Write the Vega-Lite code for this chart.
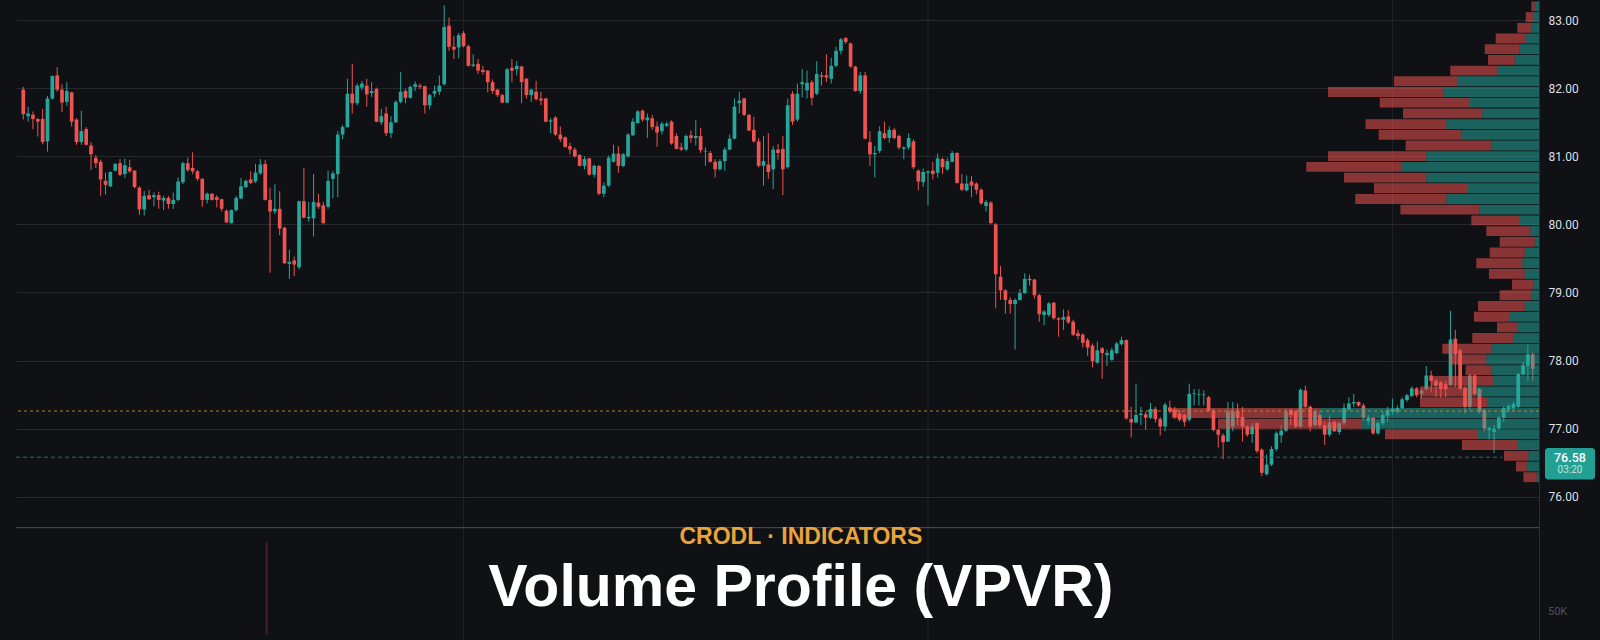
{
"$schema":"https://vega.github.io/schema/vega-lite/v6.json",
"width":1523,"height":640,
"autosize":{"type":"none"},
"padding":{"left":16,"top":0,"right":61,"bottom":0},
"background":"#0f1115",
"config":{"view":{"stroke":null},
  "axisY":{"title":null,"grid":true,"gridColor":"#25282d","gridWidth":1,"ticks":false,"domain":true,"domainColor":"#2a2d33","labelColor":"#dcdfe5","labelFont":"Roboto","labelFontSize":12,"labelPadding":9}},
"datasets":{
"candles":[
{"i":0,"o":81.98,"h":82.02,"l":81.54,"c":81.62},{"i":1,"o":81.59,"h":81.73,"l":81.51,"c":81.63},{"i":2,"o":81.61,"h":81.66,"l":81.40,"c":81.55},{"i":3,"o":81.55,"h":81.56,"l":81.29,"c":81.51},{"i":4,"o":81.55,"h":81.70,"l":81.18,"c":81.21},
{"i":5,"o":81.22,"h":81.89,"l":81.07,"c":81.85},{"i":6,"o":81.85,"h":82.19,"l":81.83,"c":82.18},{"i":7,"o":82.19,"h":82.31,"l":81.95,"c":81.98},{"i":8,"o":81.98,"h":82.06,"l":81.65,"c":81.79},{"i":9,"o":81.80,"h":82.09,"l":81.74,"c":81.96},
{"i":10,"o":81.94,"h":81.95,"l":81.44,"c":81.51},{"i":11,"o":81.54,"h":81.56,"l":81.17,"c":81.21},{"i":12,"o":81.21,"h":81.67,"l":81.17,"c":81.37},{"i":13,"o":81.40,"h":81.43,"l":81.16,"c":81.17},{"i":14,"o":81.16,"h":81.21,"l":80.80,"c":81.03},
{"i":15,"o":80.98,"h":81.02,"l":80.83,"c":80.90},{"i":16,"o":80.92,"h":80.95,"l":80.42,"c":80.66},{"i":17,"o":80.64,"h":80.76,"l":80.44,"c":80.58},{"i":18,"o":80.56,"h":80.78,"l":80.55,"c":80.77},{"i":19,"o":80.79,"h":80.90,"l":80.78,"c":80.89},
{"i":20,"o":80.90,"h":80.96,"l":80.71,"c":80.73},{"i":21,"o":80.74,"h":80.97,"l":80.68,"c":80.87},{"i":22,"o":80.84,"h":80.95,"l":80.76,"c":80.78},{"i":23,"o":80.79,"h":80.80,"l":80.53,"c":80.55},{"i":24,"o":80.54,"h":80.56,"l":80.14,"c":80.22},
{"i":25,"o":80.22,"h":80.49,"l":80.13,"c":80.42},{"i":26,"o":80.43,"h":80.51,"l":80.36,"c":80.37},{"i":27,"o":80.40,"h":80.47,"l":80.27,"c":80.43},{"i":28,"o":80.43,"h":80.48,"l":80.23,"c":80.36},{"i":29,"o":80.35,"h":80.42,"l":80.21,"c":80.39},
{"i":30,"o":80.39,"h":80.42,"l":80.23,"c":80.30},{"i":31,"o":80.30,"h":80.47,"l":80.23,"c":80.36},{"i":32,"o":80.36,"h":80.69,"l":80.34,"c":80.63},{"i":33,"o":80.62,"h":80.92,"l":80.59,"c":80.90},{"i":34,"o":80.90,"h":80.98,"l":80.77,"c":80.80},
{"i":35,"o":80.83,"h":81.06,"l":80.74,"c":80.78},{"i":36,"o":80.78,"h":80.80,"l":80.64,"c":80.67},{"i":37,"o":80.67,"h":80.68,"l":80.26,"c":80.36},{"i":38,"o":80.36,"h":80.47,"l":80.31,"c":80.45},{"i":39,"o":80.45,"h":80.46,"l":80.35,"c":80.36},
{"i":40,"o":80.40,"h":80.43,"l":80.25,"c":80.36},{"i":41,"o":80.37,"h":80.38,"l":80.19,"c":80.23},{"i":42,"o":80.20,"h":80.22,"l":80.02,"c":80.03},{"i":43,"o":80.02,"h":80.22,"l":80.01,"c":80.21},{"i":44,"o":80.21,"h":80.42,"l":80.19,"c":80.39},
{"i":45,"o":80.38,"h":80.68,"l":80.37,"c":80.56},{"i":46,"o":80.55,"h":80.66,"l":80.53,"c":80.64},{"i":47,"o":80.66,"h":80.78,"l":80.59,"c":80.61},{"i":48,"o":80.63,"h":80.89,"l":80.61,"c":80.76},{"i":49,"o":80.75,"h":80.96,"l":80.73,"c":80.88},
{"i":50,"o":80.89,"h":80.95,"l":80.35,"c":80.36},{"i":51,"o":80.36,"h":80.54,"l":79.29,"c":80.19},{"i":52,"o":80.19,"h":80.59,"l":80.15,"c":80.23},{"i":53,"o":80.23,"h":80.49,"l":79.84,"c":79.94},{"i":54,"o":79.95,"h":79.97,"l":79.42,"c":79.43},
{"i":55,"o":79.42,"h":79.63,"l":79.20,"c":79.45},{"i":56,"o":79.47,"h":79.53,"l":79.24,"c":79.41},{"i":57,"o":79.37,"h":80.35,"l":79.34,"c":80.34},{"i":58,"o":80.34,"h":80.83,"l":80.09,"c":80.10},{"i":59,"o":80.09,"h":80.33,"l":80.04,"c":80.11},
{"i":60,"o":80.09,"h":80.74,"l":79.82,"c":80.33},{"i":61,"o":80.32,"h":80.45,"l":80.23,"c":80.26},{"i":62,"o":80.28,"h":80.33,"l":80.00,"c":80.02},{"i":63,"o":80.26,"h":80.79,"l":80.23,"c":80.64},{"i":64,"o":80.67,"h":80.79,"l":80.38,"c":80.75},
{"i":65,"o":80.74,"h":81.37,"l":80.40,"c":81.32},{"i":66,"o":81.32,"h":81.46,"l":81.25,"c":81.43},{"i":67,"o":81.43,"h":82.14,"l":81.42,"c":81.92},{"i":68,"o":81.92,"h":82.36,"l":81.63,"c":81.78},{"i":69,"o":81.78,"h":82.07,"l":81.75,"c":82.04},
{"i":70,"o":82.01,"h":82.11,"l":81.97,"c":82.07},{"i":71,"o":82.04,"h":82.14,"l":81.73,"c":81.91},{"i":72,"o":81.93,"h":82.09,"l":81.87,"c":81.96},{"i":73,"o":81.99,"h":82.01,"l":81.50,"c":81.51},{"i":74,"o":81.50,"h":81.70,"l":81.46,"c":81.59},
{"i":75,"o":81.63,"h":81.73,"l":81.30,"c":81.34},{"i":76,"o":81.34,"h":81.59,"l":81.27,"c":81.50},{"i":77,"o":81.50,"h":81.82,"l":81.49,"c":81.80},{"i":78,"o":81.80,"h":82.24,"l":81.78,"c":81.95},{"i":79,"o":81.96,"h":81.99,"l":81.78,"c":81.86},
{"i":80,"o":81.86,"h":82.04,"l":81.85,"c":82.02},{"i":81,"o":82.02,"h":82.10,"l":81.96,"c":82.06},{"i":82,"o":82.04,"h":82.07,"l":81.99,"c":82.02},{"i":83,"o":82.03,"h":82.04,"l":81.63,"c":81.75},{"i":84,"o":81.75,"h":81.92,"l":81.69,"c":81.90},
{"i":85,"o":81.92,"h":82.04,"l":81.87,"c":81.96},{"i":86,"o":81.95,"h":82.19,"l":81.90,"c":82.04},{"i":87,"o":82.06,"h":83.22,"l":82.04,"c":82.90},{"i":88,"o":82.92,"h":83.04,"l":82.55,"c":82.61},{"i":89,"o":82.61,"h":82.77,"l":82.43,"c":82.57},
{"i":90,"o":82.60,"h":82.81,"l":82.44,"c":82.78},{"i":91,"o":82.81,"h":82.84,"l":82.60,"c":82.62},{"i":92,"o":82.62,"h":82.64,"l":82.32,"c":82.33},{"i":93,"o":82.33,"h":82.50,"l":82.31,"c":82.35},{"i":94,"o":82.36,"h":82.43,"l":82.21,"c":82.26},
{"i":95,"o":82.27,"h":82.33,"l":82.20,"c":82.24},{"i":96,"o":82.26,"h":82.27,"l":81.94,"c":82.09},{"i":97,"o":82.09,"h":82.13,"l":81.92,"c":81.96},{"i":98,"o":81.98,"h":81.99,"l":81.87,"c":81.90},{"i":99,"o":81.90,"h":81.92,"l":81.78,"c":81.79},
{"i":100,"o":81.79,"h":82.30,"l":81.78,"c":82.28},{"i":101,"o":82.30,"h":82.43,"l":82.09,"c":82.26},{"i":102,"o":82.28,"h":82.40,"l":82.19,"c":82.33},{"i":103,"o":82.32,"h":82.33,"l":81.78,"c":82.09},{"i":104,"o":82.14,"h":82.15,"l":81.85,"c":81.90},
{"i":105,"o":81.90,"h":81.99,"l":81.80,"c":81.98},{"i":106,"o":81.95,"h":82.11,"l":81.82,"c":81.84},{"i":107,"o":81.85,"h":81.95,"l":81.75,"c":81.82},{"i":108,"o":81.85,"h":81.86,"l":81.50,"c":81.51},{"i":109,"o":81.51,"h":81.56,"l":81.34,"c":81.53},
{"i":110,"o":81.57,"h":81.59,"l":81.30,"c":81.32},{"i":111,"o":81.32,"h":81.44,"l":81.21,"c":81.25},{"i":112,"o":81.28,"h":81.29,"l":81.13,"c":81.14},{"i":113,"o":81.15,"h":81.20,"l":81.03,"c":81.10},{"i":114,"o":81.10,"h":81.13,"l":80.98,"c":81.00},
{"i":115,"o":81.02,"h":81.03,"l":80.85,"c":80.86},{"i":116,"o":80.86,"h":81.00,"l":80.81,"c":80.96},{"i":117,"o":80.97,"h":80.98,"l":80.72,"c":80.73},{"i":118,"o":80.73,"h":80.88,"l":80.69,"c":80.86},{"i":119,"o":80.86,"h":80.87,"l":80.43,"c":80.45},
{"i":120,"o":80.45,"h":80.62,"l":80.40,"c":80.57},{"i":121,"o":80.57,"h":81.01,"l":80.55,"c":80.98},{"i":122,"o":80.92,"h":81.17,"l":80.91,"c":81.04},{"i":123,"o":81.04,"h":81.15,"l":80.76,"c":80.86},{"i":124,"o":80.86,"h":81.05,"l":80.84,"c":81.03},
{"i":125,"o":81.00,"h":81.34,"l":80.98,"c":81.32},{"i":126,"o":81.31,"h":81.56,"l":81.30,"c":81.51},{"i":127,"o":81.49,"h":81.68,"l":81.48,"c":81.66},{"i":128,"o":81.67,"h":81.69,"l":81.51,"c":81.54},{"i":129,"o":81.53,"h":81.63,"l":81.27,"c":81.57},
{"i":130,"o":81.56,"h":81.61,"l":81.39,"c":81.43},{"i":131,"o":81.44,"h":81.51,"l":81.14,"c":81.35},{"i":132,"o":81.37,"h":81.51,"l":81.32,"c":81.48},{"i":133,"o":81.45,"h":81.51,"l":81.43,"c":81.48},{"i":134,"o":81.51,"h":81.53,"l":81.17,"c":81.19},
{"i":135,"o":81.30,"h":81.34,"l":81.10,"c":81.11},{"i":136,"o":81.13,"h":81.20,"l":81.08,"c":81.10},{"i":137,"o":81.10,"h":81.32,"l":81.08,"c":81.30},{"i":138,"o":81.31,"h":81.38,"l":81.20,"c":81.27},{"i":139,"o":81.27,"h":81.53,"l":81.16,"c":81.30},
{"i":140,"o":81.30,"h":81.42,"l":81.05,"c":81.09},{"i":141,"o":81.07,"h":81.13,"l":80.86,"c":81.08},{"i":142,"o":81.05,"h":81.08,"l":80.91,"c":80.92},{"i":143,"o":80.92,"h":80.96,"l":80.69,"c":80.81},{"i":144,"o":80.81,"h":80.96,"l":80.79,"c":80.93},
{"i":145,"o":80.93,"h":81.13,"l":80.79,"c":81.10},{"i":146,"o":81.10,"h":81.32,"l":81.09,"c":81.26},{"i":147,"o":81.26,"h":81.85,"l":81.25,"c":81.73},{"i":148,"o":81.78,"h":81.95,"l":81.63,"c":81.82},{"i":149,"o":81.85,"h":81.86,"l":81.59,"c":81.61},
{"i":150,"o":81.61,"h":81.62,"l":81.37,"c":81.38},{"i":151,"o":81.39,"h":81.58,"l":81.20,"c":81.22},{"i":152,"o":81.22,"h":81.27,"l":80.84,"c":80.86},{"i":153,"o":80.86,"h":81.30,"l":80.57,"c":80.93},{"i":154,"o":80.88,"h":81.34,"l":80.67,"c":80.77},
{"i":155,"o":80.81,"h":81.15,"l":80.52,"c":81.10},{"i":156,"o":81.10,"h":81.18,"l":80.95,"c":81.05},{"i":157,"o":81.11,"h":81.30,"l":80.43,"c":80.81},{"i":158,"o":80.84,"h":81.85,"l":80.82,"c":81.75},{"i":159,"o":81.92,"h":81.96,"l":81.46,"c":81.51},
{"i":160,"o":81.54,"h":82.07,"l":81.51,"c":81.92},{"i":161,"o":82.06,"h":82.28,"l":81.87,"c":82.09},{"i":162,"o":81.97,"h":82.26,"l":81.85,"c":82.08},{"i":163,"o":82.09,"h":82.12,"l":81.75,"c":81.86},{"i":164,"o":81.92,"h":82.40,"l":81.90,"c":82.21},
{"i":165,"o":82.19,"h":82.24,"l":82.04,"c":82.17},{"i":166,"o":82.19,"h":82.50,"l":82.09,"c":82.16},{"i":167,"o":82.14,"h":82.45,"l":82.07,"c":82.33},{"i":168,"o":82.33,"h":82.61,"l":82.31,"c":82.55},{"i":169,"o":82.55,"h":82.74,"l":82.50,"c":82.72},
{"i":170,"o":82.74,"h":82.75,"l":82.65,"c":82.68},{"i":171,"o":82.66,"h":82.67,"l":82.30,"c":82.32},{"i":172,"o":82.32,"h":82.33,"l":81.95,"c":81.96},{"i":173,"o":81.96,"h":82.24,"l":81.92,"c":82.19},{"i":174,"o":82.19,"h":82.24,"l":81.25,"c":81.26},
{"i":175,"o":81.21,"h":81.37,"l":80.86,"c":81.03},{"i":176,"o":81.03,"h":81.15,"l":80.69,"c":81.05},{"i":177,"o":81.08,"h":81.44,"l":81.05,"c":81.37},{"i":178,"o":81.34,"h":81.51,"l":81.25,"c":81.27},{"i":179,"o":81.27,"h":81.44,"l":81.20,"c":81.39},
{"i":180,"o":81.39,"h":81.42,"l":81.25,"c":81.27},{"i":181,"o":81.30,"h":81.32,"l":81.10,"c":81.13},{"i":182,"o":81.11,"h":81.15,"l":80.96,"c":81.13},{"i":183,"o":81.13,"h":81.34,"l":81.10,"c":81.27},{"i":184,"o":81.22,"h":81.25,"l":80.81,"c":80.84},
{"i":185,"o":80.79,"h":80.81,"l":80.50,"c":80.63},{"i":186,"o":80.62,"h":80.82,"l":80.55,"c":80.77},{"i":187,"o":80.76,"h":80.79,"l":80.28,"c":80.78},{"i":188,"o":80.79,"h":80.92,"l":80.66,"c":80.74},{"i":189,"o":80.76,"h":81.04,"l":80.69,"c":80.97},
{"i":190,"o":80.96,"h":80.98,"l":80.74,"c":80.84},{"i":191,"o":80.81,"h":80.98,"l":80.79,"c":80.93},{"i":192,"o":80.92,"h":81.08,"l":80.91,"c":81.05},{"i":193,"o":81.05,"h":81.06,"l":80.60,"c":80.61},{"i":194,"o":80.60,"h":80.74,"l":80.49,"c":80.51},
{"i":195,"o":80.50,"h":80.72,"l":80.49,"c":80.60},{"i":196,"o":80.63,"h":80.71,"l":80.40,"c":80.57},{"i":197,"o":80.60,"h":80.62,"l":80.44,"c":80.51},{"i":198,"o":80.51,"h":80.53,"l":80.29,"c":80.31},{"i":199,"o":80.27,"h":80.36,"l":80.19,"c":80.33},
{"i":200,"o":80.32,"h":80.34,"l":80.00,"c":80.02},{"i":201,"o":80.00,"h":80.02,"l":78.77,"c":79.27},{"i":202,"o":79.23,"h":79.39,"l":78.89,"c":79.03},{"i":203,"o":79.03,"h":79.05,"l":78.69,"c":78.89},{"i":204,"o":78.89,"h":78.93,"l":78.69,"c":78.83},
{"i":205,"o":78.83,"h":78.91,"l":78.16,"c":78.89},{"i":206,"o":78.89,"h":79.05,"l":78.88,"c":78.99},{"i":207,"o":78.99,"h":79.28,"l":78.98,"c":79.20},{"i":208,"o":79.20,"h":79.26,"l":79.10,"c":79.18},{"i":209,"o":79.19,"h":79.20,"l":78.91,"c":78.96},
{"i":210,"o":78.96,"h":78.98,"l":78.57,"c":78.68},{"i":211,"o":78.67,"h":78.74,"l":78.52,"c":78.72},{"i":212,"o":78.67,"h":78.86,"l":78.64,"c":78.84},{"i":213,"o":78.85,"h":78.86,"l":78.60,"c":78.62},{"i":214,"o":78.62,"h":78.64,"l":78.35,"c":78.60},
{"i":215,"o":78.60,"h":78.75,"l":78.45,"c":78.64},{"i":216,"o":78.65,"h":78.74,"l":78.54,"c":78.56},{"i":217,"o":78.57,"h":78.60,"l":78.36,"c":78.38},{"i":218,"o":78.40,"h":78.45,"l":78.31,"c":78.36},{"i":219,"o":78.38,"h":78.40,"l":78.19,"c":78.26},
{"i":220,"o":78.30,"h":78.33,"l":78.07,"c":78.19},{"i":221,"o":78.22,"h":78.25,"l":77.90,"c":77.99},{"i":222,"o":77.97,"h":78.28,"l":77.95,"c":78.15},{"i":223,"o":78.18,"h":78.20,"l":77.73,"c":78.11},{"i":224,"o":78.08,"h":78.16,"l":77.92,"c":78.11},
{"i":225,"o":78.01,"h":78.19,"l":77.99,"c":78.15},{"i":226,"o":78.11,"h":78.27,"l":78.09,"c":78.25},{"i":227,"o":78.24,"h":78.35,"l":78.22,"c":78.30},{"i":228,"o":78.30,"h":78.31,"l":77.13,"c":77.15},{"i":229,"o":77.14,"h":77.32,"l":76.87,"c":77.09},
{"i":230,"o":77.09,"h":77.66,"l":77.08,"c":77.20},{"i":231,"o":77.20,"h":77.32,"l":77.05,"c":77.22},{"i":232,"o":77.21,"h":77.25,"l":76.98,"c":77.16},{"i":233,"o":77.16,"h":77.38,"l":77.14,"c":77.29},{"i":234,"o":77.29,"h":77.32,"l":77.09,"c":77.14},
{"i":235,"o":77.14,"h":77.17,"l":76.90,"c":77.03},{"i":236,"o":77.03,"h":77.38,"l":76.96,"c":77.35},{"i":237,"o":77.31,"h":77.41,"l":77.22,"c":77.25},{"i":238,"o":77.28,"h":77.32,"l":77.14,"c":77.17},{"i":239,"o":77.22,"h":77.27,"l":77.10,"c":77.13},
{"i":240,"o":77.20,"h":77.22,"l":77.03,"c":77.10},{"i":241,"o":77.13,"h":77.66,"l":77.10,"c":77.51},{"i":242,"o":77.51,"h":77.58,"l":77.34,"c":77.52},{"i":243,"o":77.50,"h":77.58,"l":77.34,"c":77.51},{"i":244,"o":77.49,"h":77.56,"l":77.34,"c":77.50},
{"i":245,"o":77.46,"h":77.48,"l":77.25,"c":77.26},{"i":246,"o":77.26,"h":77.29,"l":76.96,"c":76.98},{"i":247,"o":76.98,"h":77.00,"l":76.72,"c":76.91},{"i":248,"o":76.90,"h":76.93,"l":76.55,"c":76.80},{"i":249,"o":76.81,"h":77.39,"l":76.80,"c":77.25},
{"i":250,"o":77.03,"h":77.39,"l":76.96,"c":77.25},{"i":251,"o":77.25,"h":77.37,"l":77.05,"c":77.15},{"i":252,"o":77.17,"h":77.32,"l":76.81,"c":77.03},{"i":253,"o":77.03,"h":77.05,"l":76.88,"c":76.91},{"i":254,"o":76.92,"h":77.08,"l":76.79,"c":77.03},
{"i":255,"o":77.08,"h":77.09,"l":76.64,"c":76.67},{"i":256,"o":76.69,"h":76.71,"l":76.30,"c":76.35},{"i":257,"o":76.33,"h":76.62,"l":76.31,"c":76.47},{"i":258,"o":76.47,"h":76.74,"l":76.45,"c":76.70},{"i":259,"o":76.70,"h":76.96,"l":76.67,"c":76.93},
{"i":260,"o":76.90,"h":77.05,"l":76.79,"c":76.97},{"i":261,"o":76.97,"h":77.29,"l":76.95,"c":77.25},{"i":262,"o":77.27,"h":77.29,"l":77.05,"c":77.20},{"i":263,"o":77.25,"h":77.27,"l":77.01,"c":77.03},{"i":264,"o":77.03,"h":77.59,"l":77.01,"c":77.57},
{"i":265,"o":77.56,"h":77.63,"l":77.29,"c":77.32},{"i":266,"o":77.32,"h":77.34,"l":76.96,"c":77.03},{"i":267,"o":77.05,"h":77.27,"l":77.03,"c":77.25},{"i":268,"o":77.20,"h":77.25,"l":77.01,"c":77.05},{"i":269,"o":77.05,"h":77.10,"l":76.76,"c":76.91},
{"i":270,"o":76.91,"h":77.20,"l":76.88,"c":77.09},{"i":271,"o":77.10,"h":77.12,"l":76.95,"c":76.96},{"i":272,"o":76.95,"h":77.10,"l":76.91,"c":77.08},{"i":273,"o":77.08,"h":77.37,"l":77.05,"c":77.30},{"i":274,"o":77.28,"h":77.46,"l":77.27,"c":77.37},
{"i":275,"o":77.37,"h":77.51,"l":77.32,"c":77.39},{"i":276,"o":77.39,"h":77.40,"l":77.32,"c":77.34},{"i":277,"o":77.34,"h":77.37,"l":77.12,"c":77.16},{"i":278,"o":77.11,"h":77.20,"l":77.05,"c":77.16},{"i":279,"o":77.16,"h":77.17,"l":76.91,"c":76.93},
{"i":280,"o":76.93,"h":77.10,"l":76.91,"c":77.08},{"i":281,"o":77.08,"h":77.25,"l":77.05,"c":77.20},{"i":282,"o":77.19,"h":77.32,"l":77.10,"c":77.27},{"i":283,"o":77.25,"h":77.44,"l":77.20,"c":77.29},{"i":284,"o":77.25,"h":77.34,"l":77.22,"c":77.30},
{"i":285,"o":77.30,"h":77.46,"l":77.28,"c":77.43},{"i":286,"o":77.42,"h":77.51,"l":77.39,"c":77.49},{"i":287,"o":77.48,"h":77.62,"l":77.46,"c":77.59},{"i":288,"o":77.59,"h":77.61,"l":77.46,"c":77.49},{"i":289,"o":77.51,"h":77.58,"l":77.44,"c":77.56},
{"i":290,"o":77.58,"h":77.92,"l":77.56,"c":77.78},{"i":291,"o":77.78,"h":77.85,"l":77.53,"c":77.70},{"i":292,"o":77.70,"h":77.73,"l":77.46,"c":77.63},{"i":293,"o":77.68,"h":77.70,"l":77.45,"c":77.58},{"i":294,"o":77.65,"h":77.70,"l":77.46,"c":77.58},
{"i":295,"o":77.64,"h":78.73,"l":77.63,"c":78.31},{"i":296,"o":78.32,"h":78.45,"l":77.61,"c":78.09},{"i":297,"o":78.15,"h":78.17,"l":77.56,"c":77.59},{"i":298,"o":77.59,"h":77.62,"l":77.22,"c":77.32},{"i":299,"o":77.32,"h":77.80,"l":77.27,"c":77.78},
{"i":300,"o":77.78,"h":77.80,"l":77.49,"c":77.51},{"i":301,"o":77.58,"h":77.60,"l":77.22,"c":77.25},{"i":302,"o":77.27,"h":77.29,"l":76.96,"c":77.00},{"i":303,"o":76.98,"h":77.03,"l":76.84,"c":77.01},{"i":304,"o":76.95,"h":77.05,"l":76.64,"c":77.00},
{"i":305,"o":77.00,"h":77.18,"l":76.98,"c":77.16},{"i":306,"o":77.16,"h":77.32,"l":77.10,"c":77.30},{"i":307,"o":77.28,"h":77.36,"l":77.24,"c":77.33},{"i":308,"o":77.30,"h":77.40,"l":77.26,"c":77.36},{"i":309,"o":77.32,"h":77.82,"l":77.30,"c":77.80},
{"i":310,"o":77.80,"h":77.98,"l":77.78,"c":77.93},{"i":311,"o":77.92,"h":78.23,"l":77.70,"c":78.09},{"i":312,"o":78.09,"h":78.12,"l":77.70,"c":77.88}
],
"profile":[
{"p":83.204,"up":4.3,"tot":7.6},{"p":83.046,"up":5.3,"tot":13.3},{"p":82.889,"up":7.7,"tot":21.7},{"p":82.732,"up":13.3,"tot":43.3},{"p":82.575,"up":19.3,"tot":54.3},
{"p":82.418,"up":24.3,"tot":51.0},{"p":82.260,"up":42.0,"tot":88.7},{"p":82.103,"up":81.0,"tot":145.0},{"p":81.946,"up":95.3,"tot":211.0},{"p":81.789,"up":70.0,"tot":159.3},
{"p":81.632,"up":56.7,"tot":136.0},{"p":81.474,"up":92.7,"tot":173.4},{"p":81.317,"up":77.7,"tot":160.4},{"p":81.160,"up":47.7,"tot":133.4},{"p":81.003,"up":112.7,"tot":211.0},
{"p":80.845,"up":137.7,"tot":232.7},{"p":80.688,"up":112.7,"tot":195.0},{"p":80.531,"up":71.0,"tot":165.0},{"p":80.374,"up":92.7,"tot":183.7},{"p":80.217,"up":59.3,"tot":138.6},
{"p":80.059,"up":20.0,"tot":67.7},{"p":79.902,"up":8.7,"tot":52.7},{"p":79.745,"up":4.3,"tot":39.3},{"p":79.588,"up":14.3,"tot":49.3},{"p":79.430,"up":16.7,"tot":62.7},
{"p":79.273,"up":14.3,"tot":50.0},{"p":79.116,"up":5.3,"tot":27.0},{"p":78.959,"up":7.7,"tot":39.4},{"p":78.802,"up":14.3,"tot":61.0},{"p":78.644,"up":30.0,"tot":65.0},
{"p":78.487,"up":22.0,"tot":42.0},{"p":78.330,"up":26.0,"tot":66.7},{"p":78.173,"up":47.7,"tot":96.7},{"p":78.015,"up":52.7,"tot":90.0},{"p":77.858,"up":47.7,"tot":73.4},
{"p":77.701,"up":46.0,"tot":108.0},{"p":77.544,"up":63.0,"tot":119.0},{"p":77.387,"up":52.0,"tot":119.0},{"p":77.229,"up":219.0,"tot":367.3},{"p":77.072,"up":177.0,"tot":321.0},
{"p":76.915,"up":62.0,"tot":154.0},{"p":76.758,"up":22.0,"tot":77.0},{"p":76.600,"up":10.7,"tot":35.0},{"p":76.443,"up":12.3,"tot":23.0},{"p":76.286,"up":2.3,"tot":15.6}
]
},
"layer":[
{"data":{"name":"candles"},
 "layer":[
  {"data":{"values":[{"g":91},{"g":187},{"g":283}]},
   "mark":{"type":"rule","color":"#202328","strokeWidth":1},
   "encoding":{"x":{"field":"g","type":"quantitative","scale":{"domain":[-0.472,312.26],"nice":false,"zero":false},"axis":null}}},
  {"mark":{"type":"rule","strokeWidth":1},
   "encoding":{"x":{"field":"i","type":"quantitative","scale":{"domain":[-0.472,312.26],"nice":false,"zero":false},"axis":null},
     "y":{"field":"l","type":"quantitative","scale":{"domain":[73.967,83.224],"nice":false,"zero":false},"axis":{"orient":"right","values":[76,77,78,79,80,81,82,83],"format":".2f","title":null}},
     "y2":{"field":"h"},
     "color":{"condition":{"test":"datum.c >= datum.o","value":"#26a69a"},"value":"#ef5350"}}},
  {"mark":{"type":"bar","size":3.7},
   "encoding":{"x":{"field":"i","type":"quantitative","scale":{"domain":[-0.472,312.26],"nice":false,"zero":false},"axis":null},
     "y":{"field":"o","type":"quantitative","scale":{"domain":[73.967,83.224],"nice":false,"zero":false},"axis":{"orient":"right","values":[76,77,78,79,80,81,82,83],"format":".2f","title":null}},
     "y2":{"field":"c"},
     "color":{"condition":{"test":"datum.c >= datum.o","value":"#26a69a"},"value":"#ef5350"}}}
 ]},
{"data":{"name":"profile"},
 "layer":[
  {"mark":{"type":"bar","orient":"horizontal","size":9.9,"color":"#26a69a","opacity":0.55},
   "encoding":{"x":{"field":"up","type":"quantitative","scale":{"domain":[0,1523],"reverse":true,"nice":false,"zero":false},"axis":null},
     "x2":{"datum":0},
     "y":{"field":"p","type":"quantitative","scale":{"domain":[73.967,83.224],"nice":false,"zero":false},"axis":{"orient":"right","values":[76,77,78,79,80,81,82,83],"format":".2f","title":null}}}},
  {"mark":{"type":"bar","orient":"horizontal","size":9.9,"color":"#ef5350","opacity":0.55},
   "encoding":{"x":{"field":"up","type":"quantitative","scale":{"domain":[0,1523],"reverse":true,"nice":false,"zero":false},"axis":null},
     "x2":{"field":"tot"},
     "y":{"field":"p","type":"quantitative","scale":{"domain":[73.967,83.224],"nice":false,"zero":false},"axis":{"orient":"right","values":[76,77,78,79,80,81,82,83],"format":".2f","title":null}}}}
 ]},
{"data":{"values":[{"poc":77.258,"last":76.58,"timer":"03:20","sep":75.544,"vi":51,"vtop":75.33,"vbot":73.967}]},
 "layer":[
  {"mark":{"type":"rule","color":"#45202a","strokeWidth":2},
   "encoding":{"x":{"field":"vi","type":"quantitative","scale":{"domain":[-0.472,312.26],"nice":false,"zero":false},"axis":null},
     "y":{"field":"vtop","type":"quantitative","scale":{"domain":[73.967,83.224],"nice":false,"zero":false},"axis":{"orient":"right","values":[76,77,78,79,80,81,82,83],"format":".2f","title":null}},"y2":{"field":"vbot"}}},
  {"mark":{"type":"rule","color":"#c08a3e","strokeWidth":1,"strokeDash":[3,3],"opacity":0.9},
   "encoding":{"y":{"field":"poc","type":"quantitative","scale":{"domain":[73.967,83.224],"nice":false,"zero":false},"axis":{"orient":"right","values":[76,77,78,79,80,81,82,83],"format":".2f","title":null}}}},
  {"mark":{"type":"rule","color":"#2f6b63","strokeWidth":1,"strokeDash":[4,3]},
   "encoding":{"x":{"datum":-0.472,"type":"quantitative","scale":{"domain":[-0.472,312.26],"nice":false,"zero":false},"axis":null},"x2":{"datum":304.7},
     "y":{"field":"last","type":"quantitative","scale":{"domain":[73.967,83.224],"nice":false,"zero":false},"axis":{"orient":"right","values":[76,77,78,79,80,81,82,83],"format":".2f","title":null}}}},
  {"mark":{"type":"rule","color":"#50535a","strokeWidth":1},
   "encoding":{"y":{"field":"sep","type":"quantitative","scale":{"domain":[73.967,83.224],"nice":false,"zero":false},"axis":{"orient":"right","values":[76,77,78,79,80,81,82,83],"format":".2f","title":null}}}},
  {"mark":{"type":"rect","color":"#22a094","cornerRadius":3,"clip":false},
   "encoding":{"x":{"datum":313.49,"type":"quantitative","scale":{"domain":[-0.472,312.26],"nice":false,"zero":false},"axis":null},"x2":{"datum":323.76},
     "y":{"datum":76.716,"type":"quantitative","scale":{"domain":[73.967,83.224],"nice":false,"zero":false},"axis":{"orient":"right","values":[76,77,78,79,80,81,82,83],"format":".2f","title":null}},"y2":{"datum":76.253}}},
  {"mark":{"type":"text","color":"#ffffff","font":"Roboto","fontSize":12.5,"fontWeight":500,"align":"center","baseline":"middle","clip":false},
   "encoding":{"x":{"datum":318.62,"type":"quantitative","scale":{"domain":[-0.472,312.26],"nice":false,"zero":false},"axis":null},
     "y":{"datum":76.575,"type":"quantitative","scale":{"domain":[73.967,83.224],"nice":false,"zero":false},"axis":{"orient":"right","values":[76,77,78,79,80,81,82,83],"format":".2f","title":null}},
     "text":{"field":"last","format":".2f"}}},
  {"mark":{"type":"text","color":"#bfe6df","font":"Roboto","fontSize":10,"align":"center","baseline":"middle","clip":false},
   "encoding":{"x":{"datum":318.62,"type":"quantitative","scale":{"domain":[-0.472,312.26],"nice":false,"zero":false},"axis":null},
     "y":{"datum":76.39,"type":"quantitative","scale":{"domain":[73.967,83.224],"nice":false,"zero":false},"axis":{"orient":"right","values":[76,77,78,79,80,81,82,83],"format":".2f","title":null}},
     "text":{"field":"timer"}}},
  {"mark":{"type":"text","color":"#4d5057","font":"Roboto","fontSize":11,"align":"left","baseline":"middle","clip":false},
   "encoding":{"x":{"datum":314.1,"type":"quantitative","scale":{"domain":[-0.472,312.26],"nice":false,"zero":false},"axis":null},
     "y":{"datum":74.31,"type":"quantitative","scale":{"domain":[73.967,83.224],"nice":false,"zero":false},"axis":{"orient":"right","values":[76,77,78,79,80,81,82,83],"format":".2f","title":null}},
     "text":{"value":"50K"}}},
  {"mark":{"type":"text","color":"#e8a33a","font":"Liberation Sans","fontSize":23,"fontWeight":"bold","align":"center","baseline":"alphabetic"},
   "encoding":{"x":{"datum":160.7,"type":"quantitative","scale":{"domain":[-0.472,312.26],"nice":false,"zero":false},"axis":null},
     "y":{"datum":75.30,"type":"quantitative","scale":{"domain":[73.967,83.224],"nice":false,"zero":false},"axis":{"orient":"right","values":[76,77,78,79,80,81,82,83],"format":".2f","title":null}},
     "text":{"value":"CRODL · INDICATORS"}}},
  {"mark":{"type":"text","color":"#ffffff","font":"Liberation Sans","fontSize":59,"fontWeight":"bold","align":"center","baseline":"alphabetic"},
   "encoding":{"x":{"datum":160.7,"type":"quantitative","scale":{"domain":[-0.472,312.26],"nice":false,"zero":false},"axis":null},
     "y":{"datum":74.40,"type":"quantitative","scale":{"domain":[73.967,83.224],"nice":false,"zero":false},"axis":{"orient":"right","values":[76,77,78,79,80,81,82,83],"format":".2f","title":null}},
     "text":{"value":"Volume Profile (VPVR)"}}}
 ]}
],
"resolve":{"scale":{"x":"independent"}}
}
